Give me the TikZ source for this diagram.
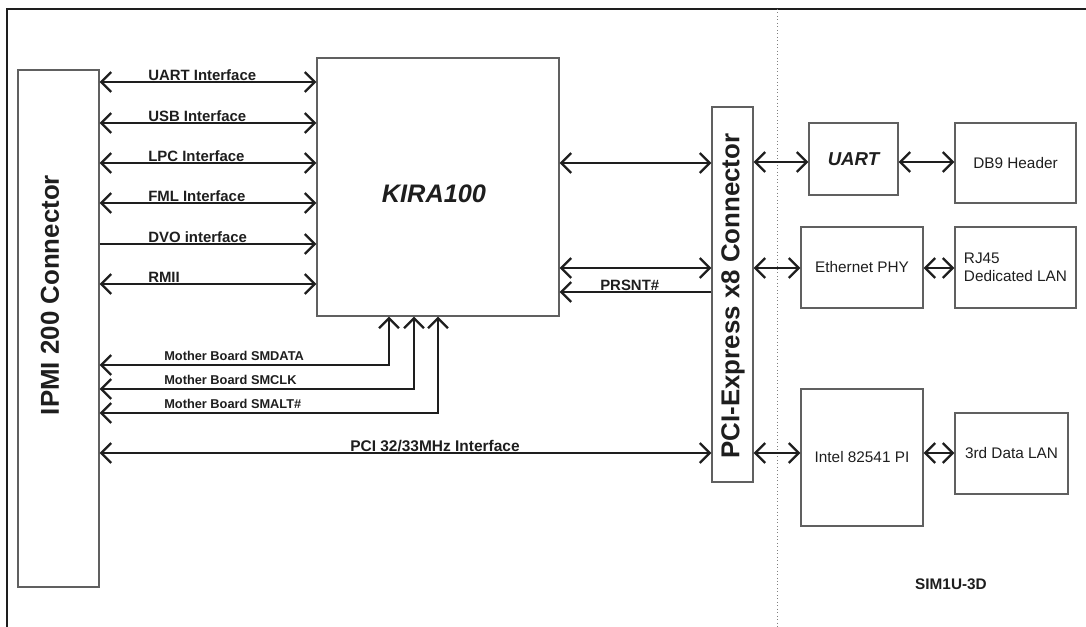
\documentclass[tikz,border=0pt]{standalone}
\usepackage{fontspec}
\setmainfont{Liberation Sans}
\usetikzlibrary{arrows.meta}
\definecolor{ink}{HTML}{1E1E1E}
\definecolor{edge}{HTML}{606060}
\tikzset{
  blk/.style={draw=edge, line width=0.8pt, rectangle, inner sep=0pt, text=ink, font=\fontsize{11.5}{13.8}\selectfont},
  conn/.style={draw=ink, line width=1.8pt},
  barb/.tip={Straight Barb[length=7.5pt,width=15pt,line width=1.8pt]},
  lbl/.style={inner sep=0pt, anchor=base west, text=ink, font=\bfseries\fontsize{11.2}{13}\selectfont},
  mlbl/.style={inner sep=0pt, anchor=base west, text=ink, font=\bfseries\fontsize{9.6}{11}\selectfont},
  bigtxt/.style={inner sep=0pt, text=ink, font=\bfseries\fontsize{19.4}{22}\selectfont}
}
\begin{document}
\begin{tikzpicture}[x=0.75pt,y=-0.75pt]
\useasboundingbox (0,0) rectangle (1086,627);
% frame and separator
\draw[draw=ink, line width=1.2pt] (7,627) -- (7,9) -- (1086,9);
\draw[draw=gray, line width=0.6pt, dotted] (777,9) -- (777,627);

% boxes
\node[blk, minimum width=60.75pt, minimum height=387.75pt] (ipmi) at (58.5,328.5) {};
\node[bigtxt, rotate=90] (ipmitxt) at (50,295) {IPMI 200 Connector};
\node[blk, minimum width=181.5pt, minimum height=193.5pt] (kira) at (438,187) {};
\node[inner sep=0pt, text=ink, font=\bfseries\itshape\fontsize{19}{22}\selectfont] (kiratxt) at (434,194) {KIRA100};
\node[blk, minimum width=30.75pt, minimum height=281.25pt] (pcie) at (732.5,294.5) {};
\node[bigtxt, rotate=90] (pcietxt) at (733,296) {PCI-Express x8 Connector};
\node[blk, minimum width=66.75pt, minimum height=54pt, font=\bfseries\itshape\fontsize{14}{16}\selectfont] (uart) at (853.5,159) {UART};
\node[blk, minimum width=90.75pt, minimum height=60pt] (db9) at (1015.5,163) {DB9 Header};
\node[blk, minimum width=91.5pt, minimum height=60.75pt] (eth) at (862,267.5) {Ethernet PHY};
\node[blk, minimum width=90.75pt, minimum height=60.75pt, align=left] (rj45) at (1015.5,267.5) {RJ45\\Dedicated LAN};
\node[blk, minimum width=91.5pt, minimum height=102.75pt] (intel) at (862,457.5) {Intel 82541 PI};
\node[blk, minimum width=84.75pt, minimum height=60.75pt] (lan3) at (1011.5,453.5) {3rd Data LAN};
\node[inner sep=0pt, text=ink, font=\bfseries\fontsize{11.5}{13}\selectfont] (sim) at (951,584) {SIM1U-3D};

% left interfaces
\draw[conn, barb-barb] (ipmi.east |- 0,82) -- (kira.west |- 0,82);
\draw[conn, barb-barb] (ipmi.east |- 0,123) -- (kira.west |- 0,123);
\draw[conn, barb-barb] (ipmi.east |- 0,163) -- (kira.west |- 0,163);
\draw[conn, barb-barb] (ipmi.east |- 0,203) -- (kira.west |- 0,203);
\draw[conn, -barb] (ipmi.east |- 0,244) -- (kira.west |- 0,244);
\draw[conn, barb-barb] (ipmi.east |- 0,284) -- (kira.west |- 0,284);
\node[lbl] (l1) at (148,81) {UART Interface};
\node[lbl] (l2) at (148,122) {USB Interface};
\node[lbl] (l3) at (148,162) {LPC Interface};
\node[lbl] (l4) at (148,202) {FML Interface};
\node[lbl] (l5) at (148,243) {DVO interface};
\node[lbl] (l6) at (148,283) {RMII};

% SM bus lines
\draw[conn, barb-barb] (kira.south -| 389,0) |- (ipmi.east |- 0,365);
\draw[conn, barb-barb] (kira.south -| 414,0) |- (ipmi.east |- 0,389);
\draw[conn, barb-barb] (kira.south -| 438,0) |- (ipmi.east |- 0,413);
\node[mlbl] (m1) at (164,361) {Mother Board SMDATA};
\node[mlbl] (m2) at (164,385) {Mother Board SMCLK};
\node[mlbl] (m3) at (164,409) {Mother Board SMALT\#};

% PCI bus
\draw[conn, barb-barb] (ipmi.east |- 0,453) -- (pcie.west |- 0,453);
\node[lbl, anchor=base, font=\bfseries\fontsize{11.6}{13}\selectfont] (pcil) at (435,451) {PCI 32/33MHz Interface};

% KIRA to PCIe
\draw[conn, barb-barb] (kira.east |- 0,163) -- (pcie.west |- 0,163);
\draw[conn, barb-barb] (kira.east |- 0,268) -- (pcie.west |- 0,268);
\draw[conn, -barb] (pcie.west |- 0,292) -- (kira.east |- 0,292);
\node[lbl] (prs) at (600,291) {PRSNT\#};

% right side
\draw[conn, barb-barb] (pcie.east |- 0,162) -- (uart.west |- 0,162);
\draw[conn, barb-barb] (uart.east |- 0,162) -- (db9.west |- 0,162);
\draw[conn, barb-barb] (pcie.east |- 0,268) -- (eth.west |- 0,268);
\draw[conn, barb-barb] (eth.east |- 0,268) -- (rj45.west |- 0,268);
\draw[conn, barb-barb] (pcie.east |- 0,453) -- (intel.west |- 0,453);
\draw[conn, barb-barb] (intel.east |- 0,453) -- (lan3.west |- 0,453);
\end{tikzpicture}
\end{document}
